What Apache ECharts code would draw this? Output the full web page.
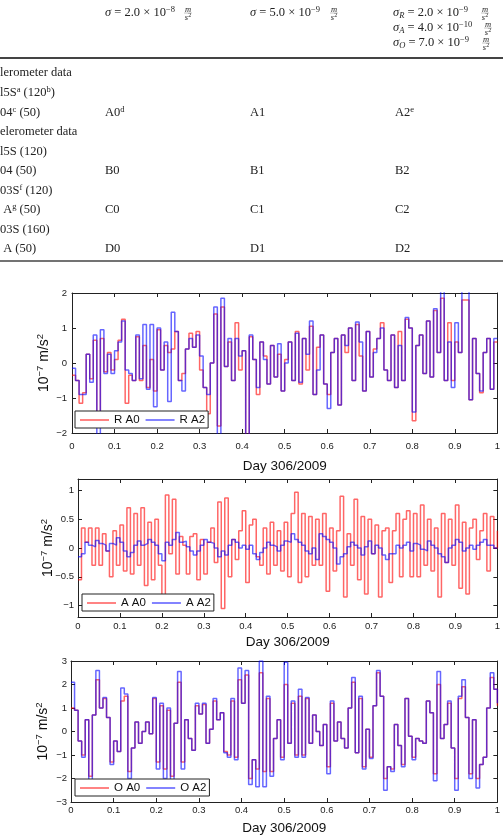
<!DOCTYPE html>
<html>
<head>
<meta charset="utf-8">
<script src="https://cdn.jsdelivr.net/npm/echarts@6/dist/echarts.min.js"></script>
<style>
  html, body { margin: 0; padding: 0; background: #fff; }
  #chart { width: 503px; height: 838px; }
</style>
</head>
<body>
<div id="chart"></div>
<script>
const sans = '"Liberation Sans", Arial, sans-serif';
const serif = '"Liberation Serif", "Times New Roman", serif';

// sample times, fraction of day 306/2009
const dayFraction = Array.from({ length: 121 }, (_, i) => i / 120);

// radial, 1e-7 m/s^2
const rA0 = [-0.35,-0.5,-1.15,-0.85,0.25,-0.45,0.65,-1.4,0.7,-0.25,
  0.3,-0.2,0.1,0.65,1.25,-1.15,-0.35,-0.5,0.75,-0.5,
  0.5,-0.7,0.1,-0.8,0.95,-0.2,0.5,0.3,0.4,0.9,
  -0.5,-0.3,0.4,0.85,0.45,0.9,-0.2,-0.7,-1.45,0.0,
  1.4,-1.8,1.6,-0.1,0.6,-0.5,1.15,-0.2,0.35,-2.1,
  0.75,0.1,-0.9,0.6,0.2,-0.6,0.5,-0.4,0.25,-0.8,
  0.1,0.6,-0.5,0.9,-0.6,0.7,-0.2,1.05,-0.9,0.45,
  0.8,-0.6,-0.9,0.3,0.7,-1.2,0.8,0.3,1.0,-0.5,
  1.1,0.2,-0.8,0.9,-0.4,0.4,0.7,1.15,-0.2,-0.5,
  0.8,-0.7,0.9,-0.5,1.25,1.0,-1.65,0.5,0.8,-0.3,
  1.2,-0.4,1.5,0.3,1.85,-0.5,1.15,-0.5,0.6,0.3,
  1.8,1.8,-1.05,0.7,-0.3,-0.85,0.3,0.7,-0.75,0.6,
  0.6];
const rA2 = [-0.15,-0.5,-0.9,-0.9,0.25,-0.55,0.8,-2.2,0.95,-0.3,
  0.25,-0.3,0.35,0.6,1.2,-0.2,-0.3,-0.5,0.8,-0.45,
  1.1,-0.75,1.1,-1.25,1.0,-0.2,0.6,-1.1,1.45,0.9,
  -0.5,-0.8,0.4,0.7,0.45,0.8,0.2,-0.7,-0.9,0.0,
  1.6,-2.2,1.85,-0.1,0.7,-0.5,0.7,0.2,0.35,-2.2,
  0.8,0.1,-0.7,0.6,0.1,-0.6,0.5,-0.4,0.55,-0.8,
  0.0,0.6,-0.5,0.85,-0.55,0.7,0.25,1.2,-0.9,-0.2,
  0.8,-0.6,-1.3,0.3,0.7,-1.2,0.8,0.5,1.0,-0.5,
  1.17,0.6,-0.8,0.9,-0.4,0.3,0.7,1.0,-0.2,-0.5,
  0.8,-0.7,0.5,-0.5,1.3,1.0,-1.4,0.5,0.8,-0.3,
  1.2,-0.4,1.55,0.3,2.1,-0.5,0.6,-0.7,1.15,0.3,
  2.1,2.1,-1.05,0.7,-0.3,-0.8,0.3,0.7,-0.75,0.7,
  0.7];

// along-track
const aA0 = [-0.55,0.35,0.1,0.35,-0.3,0.35,-0.3,0.25,-0.05,-0.5,
  0.3,-0.3,0.4,-0.4,0.7,-0.45,0.6,-0.3,0.7,-0.65,
  0.45,-0.55,0.5,-0.3,-0.85,0.92,-0.1,0.85,-0.45,0.2,
  0.05,-0.45,0.2,0.25,-0.55,0.15,-0.45,0.1,0.35,-0.25,
  0.8,-1.05,0.87,-0.5,0.15,-0.2,0.3,0.65,-0.6,0.4,
  0.5,-0.15,-0.3,0.35,-0.45,0.45,-0.3,0.3,-0.4,0.45,
  -0.5,0.6,0.97,-0.6,0.6,-0.5,0.55,-0.3,0.5,-0.3,
  0.6,-0.75,0.35,-0.4,0.3,0.9,-0.85,0.25,-0.3,0.85,
  -0.55,0.55,-0.8,0.5,-0.1,0.4,-0.85,0.3,0.35,-0.6,
  0.3,0.6,-0.5,0.5,0.65,-0.5,0.6,-0.5,0.75,-0.3,
  0.5,-0.4,0.35,-0.85,0.6,-0.25,0.5,-0.3,0.75,-0.7,
  0.45,-0.8,0.35,0.5,-0.2,0.3,0.6,-0.4,0.55,0.0,
  0.3];
const aA2 = [-0.15,-0.1,0.1,0.05,0.02,0.13,0.08,0.05,-0.05,0.08,
  0.05,0.18,0.1,-0.05,-0.15,-0.08,0.05,0.12,0.05,0.08,
  0.15,0.1,0.05,-0.1,-0.22,0.1,0.05,0.15,0.27,0.1,
  0.12,0.02,-0.05,-0.12,-0.05,0.05,0.15,0.1,0.08,0.0,
  -0.15,-0.05,-0.12,0.05,0.15,0.1,0.0,0.05,-0.02,0.05,
  -0.1,-0.2,-0.08,0.0,0.1,0.05,0.02,-0.05,0.05,0.12,
  0.1,0.25,0.15,0.1,0.05,-0.05,-0.1,0.0,-0.2,0.25,
  0.2,0.15,0.1,0.0,-0.28,-0.15,-0.1,0.02,0.1,0.05,
  0.0,-0.12,0.02,0.12,-0.1,0.05,0.0,-0.12,-0.2,-0.1,
  -0.1,0.05,0.0,0.05,0.1,-0.05,0.08,0.05,-0.02,-0.05,
  0.12,0.05,0.0,-0.1,-0.15,-0.25,0.0,0.05,0.15,0.1,
  -0.05,0.0,0.05,-0.02,0.05,0.1,0.15,0.05,0.05,0.0,
  0.0];

// cross-track
const oA0 = [1.0,0.9,-0.4,-1.0,0.5,-1.9,0.7,2.2,1.0,1.4,
  0.6,-1.3,-0.4,-0.85,1.3,1.5,-1.7,-0.7,0.4,-0.5,
  0.0,0.4,-0.1,1.4,-1.3,1.1,-1.6,0.9,-1.9,0.35,
  2.1,-1.3,0.5,-0.3,-0.8,1.1,0.75,1.15,-0.5,0.1,
  1.3,0.5,0.8,-0.85,-1.0,1.3,-1.1,2.2,1.2,2.4,
  -2.0,-1.2,-1.6,2.5,-1.7,1.4,-1.7,-0.3,0.5,-1.1,
  2.0,-0.5,1.2,-1.0,1.5,-1.0,1.4,-0.5,0.7,0.0,
  -0.6,0.3,-1.5,1.2,-0.4,0.4,-0.3,-0.7,1.0,2.1,
  -0.9,1.4,-1.5,0.1,-1.1,1.1,2.5,1.5,-2.0,-1.5,
  -1.6,0.3,-0.6,-1.4,1.4,-0.2,-1.1,-0.3,-0.4,-0.5,
  1.3,0.8,-1.8,2.0,-0.3,0.3,1.2,-0.7,-2.0,1.4,
  1.9,0.6,-1.8,0.5,-2.0,-1.4,-1.1,1.0,2.3,1.8,
  1.1];
const oA2 = [2.1,0.9,-0.4,-1.1,0.5,-2.1,0.7,2.6,1.0,1.45,
  0.6,-1.4,-0.4,-0.85,1.85,1.6,-2.0,-0.7,0.4,-0.5,
  0.0,0.4,-0.1,1.45,-1.6,1.2,-2.0,1.0,-2.2,0.35,
  2.55,-1.6,0.5,-0.3,-0.8,1.2,0.75,1.2,-0.5,0.1,
  1.4,0.5,0.8,-0.9,-1.1,1.4,-1.2,2.7,1.2,2.6,
  -2.25,-1.2,-2.35,3.0,-2.35,1.5,-1.9,-0.3,0.5,-1.2,
  2.95,-0.5,1.3,-1.1,1.8,-1.1,1.45,-0.5,0.7,0.0,
  -0.6,0.3,-1.8,1.3,-0.4,0.4,-0.3,-0.7,1.0,2.3,
  -0.9,1.5,-1.6,0.1,-1.15,1.1,2.6,1.5,-2.5,-1.5,
  -1.7,0.3,-0.6,-1.5,1.4,-0.2,-1.2,-0.3,-0.4,-0.5,
  1.3,0.8,-2.1,2.55,-0.3,0.3,1.3,-0.7,-2.5,1.5,
  2.2,0.6,-2.0,0.5,-2.4,-1.4,-1.1,1.0,2.5,1.8,
  1.2];

const rTicks = [-2, -1, 0, 1, 2];
const aTicks = [-1, -0.5, 0, 0.5, 1];
const oTicks = [-3, -2, -1, 0, 1, 2, 3];

// table above the plots
const tableHeader = [
  ['{i|σ} = 2.0 × 10{sup|−8}', 105, 13],
  ['{i|σ} = 5.0 × 10{sup|−9}', 250, 13],
  ['{i|σ}{sub|R} = 2.0 × 10{sup|−9}', 393, 13],
  ['{i|σ}{sub|A} = 4.0 × 10{sup|−10}', 393, 28],
  ['{i|σ}{sub|O} = 7.0 × 10{sup|−9}', 393, 43]
];
const headerUnits = [[188, 13], [334, 13], [485, 13], [488, 28], [486, 43]];
const tableRows = [
  ['lerometer data', '', '', ''],
  ['l5S{sup|a} (120{sup|b})', '', '', ''],
  ['04{sup|c} (50)', 'A0{sup|d}', 'A1', 'A2{sup|e}'],
  ['elerometer data', '', '', ''],
  ['l5S (120)', '', '', ''],
  ['04 (50)', 'B0', 'B1', 'B2'],
  ['03S{sup|f} (120)', '', '', ''],
  [' A{sup|g} (50)', 'C0', 'C1', 'C2'],
  ['03S (160)', '', '', ''],
  [' A (50)', 'D0', 'D1', 'D2']
];
const rowY = [73, 93, 113, 132, 152, 171, 191, 210, 230, 249];
const colX = [0, 105, 250, 395];

const serifRich = {
  sup: { fontSize: 8.5, fontFamily: serif, padding: [0, 0, 7, 0], fill: '#222' },
  sub: { fontSize: 8.5, fontFamily: serif, fontStyle: 'italic', padding: [6, 0, 0, 0], fill: '#222' },
  i: { fontSize: 12.5, fontFamily: serif, fontStyle: 'italic', fill: '#222' }
};

function tableText(text, x, y) {
  return {
    type: 'text', silent: true,
    style: { text, x, y, fill: '#222', fontSize: 12.5, fontFamily: serif, verticalAlign: 'middle', rich: serifRich }
  };
}

const graphic = [];
tableHeader.forEach(h => graphic.push(tableText(h[0], h[1], h[2])));
headerUnits.forEach(u => {
  graphic.push({ type: 'text', silent: true, style: { text: 'm', x: u[0], y: u[1] - 3.5, fill: '#222', fontSize: 8.5, fontFamily: serif, fontStyle: 'italic', align: 'center', verticalAlign: 'middle' } });
  graphic.push({ type: 'line', silent: true, shape: { x1: u[0] - 4, y1: u[1], x2: u[0] + 4, y2: u[1] }, style: { stroke: '#888', lineWidth: 0.5 } });
  graphic.push({ type: 'text', silent: true, style: { text: 's{sup|2}', x: u[0], y: u[1] + 4.5, fill: '#222', fontSize: 8.5, fontFamily: serif, fontStyle: 'italic', align: 'center', verticalAlign: 'middle', rich: { sup: { fontSize: 6, fontFamily: serif, padding: [0, 0, 4, 0] } } } });
});
tableRows.forEach((row, r) => {
  row.forEach((cell, c) => { if (cell) graphic.push(tableText(cell, colX[c], rowY[r])); });
});
graphic.push({ type: 'line', silent: true, shape: { x1: 0, y1: 58, x2: 503, y2: 58 }, style: { stroke: '#444', lineWidth: 2.2 } });
graphic.push({ type: 'line', silent: true, shape: { x1: 0, y1: 261, x2: 503, y2: 261 }, style: { stroke: '#444', lineWidth: 1.4 } });

const ink = '#222';
const fmt = v => {
  const n = parseFloat(Number(v).toFixed(2));
  return n < 0 ? '\u2212' + Math.abs(n) : String(n);
};

function xAxes(gi, labelMargin, nameGap) {
  const line = { show: true, onZero: false, lineStyle: { color: ink, width: 1 } };
  const tick = { show: true, inside: true, length: 4, lineStyle: { color: ink } };
  return [{
    type: 'value', gridIndex: gi, position: 'bottom', min: 0, max: 1, interval: 0.1,
    name: 'Day 306/2009', nameLocation: 'middle', nameGap, nameMoveOverlap: false,
    nameTextStyle: { fontFamily: sans, fontSize: 13.5, color: '#111' },
    axisLine: line, axisTick: tick, splitLine: { show: false },
    axisLabel: { margin: labelMargin, fontFamily: sans, fontSize: 9.5, color: ink, formatter: fmt }
  }, {
    type: 'value', gridIndex: gi, position: 'top', min: 0, max: 1, interval: 0.1,
    axisLine: line, axisTick: tick, splitLine: { show: false }, axisLabel: { show: false }
  }];
}

function yAxes(gi, min, max, ticks, labelMargin, nameGap) {
  const line = { show: true, onZero: false, lineStyle: { color: ink, width: 1 } };
  const tick = { show: true, inside: true, length: 4, customValues: ticks, lineStyle: { color: ink } };
  return [{
    type: 'value', gridIndex: gi, position: 'left', min, max,
    name: '10{sup|\u22127} m/s{sup|2}', nameLocation: 'middle', nameGap, nameRotate: 90, nameMoveOverlap: false,
    nameTextStyle: { fontFamily: sans, fontSize: 14, color: '#111', rich: { sup: { fontFamily: sans, fontSize: 9.5, padding: [0, 0, 8, 0], color: '#111' } } },
    axisLine: line, axisTick: tick, splitLine: { show: false },
    axisLabel: { customValues: ticks, margin: labelMargin, fontFamily: sans, fontSize: 9.5, color: ink, formatter: fmt }
  }, {
    type: 'value', gridIndex: gi, position: 'right', min, max,
    axisLine: line, axisTick: tick, splitLine: { show: false }, axisLabel: { show: false }
  }];
}

function stairs(name, values, color, axisIndex) {
  return {
    name, type: 'line', step: 'end', symbol: 'none', clip: true,
    xAxisIndex: axisIndex, yAxisIndex: axisIndex,
    data: dayFraction.map((t, i) => [t, values[i]]),
    lineStyle: { color, width: 1.5, opacity: 0.6 },
    itemStyle: { color },
    emphasis: { disabled: true }
  };
}

const legendBase = {
  orient: 'horizontal', selectedMode: false, icon: 'rect',
  itemWidth: 29, itemHeight: 1.5, itemGap: 6,
  padding: [3, 3, 2, 5], borderColor: ink, borderWidth: 1, backgroundColor: '#fff',
  itemStyle: { opacity: 0.65 },
  textStyle: { fontFamily: sans, fontSize: 11.5, color: '#111' }
};

const chart = echarts.init(document.getElementById('chart'), null, { renderer: 'canvas' });
chart.setOption({
  animation: false,
  backgroundColor: '#fff',
  graphic,
  grid: [
    { left: 72, top: 293, width: 426, height: 140 },
    { left: 78, top: 479, width: 420, height: 138 },
    { left: 71, top: 661, width: 427, height: 141 }
  ],
  xAxis: [...xAxes(0, 8, 26), ...xAxes(1, 4, 18), ...xAxes(2, 3, 19)],
  yAxis: [...yAxes(0, -2, 2, rTicks, 5, 19), ...yAxes(1, -1.2, 1.2, aTicks, 4, 21), ...yAxes(2, -3, 3, oTicks, 4, 19)],
  legend: [
    { ...legendBase, data: ['R A0', 'R A2'], left: 75, top: 411 },
    { ...legendBase, data: ['A A0', 'A A2'], left: 82, top: 594 },
    { ...legendBase, data: ['O A0', 'O A2'], left: 75, top: 779 }
  ],
  series: [
    stairs('R A0', rA0, '#ff0000', 0),
    stairs('R A2', rA2, '#0000ff', 0),
    stairs('A A0', aA0, '#ff0000', 2),
    stairs('A A2', aA2, '#0000ff', 2),
    stairs('O A0', oA0, '#ff0000', 4),
    stairs('O A2', oA2, '#0000ff', 4)
  ]
});
</script>
</body>
</html>
